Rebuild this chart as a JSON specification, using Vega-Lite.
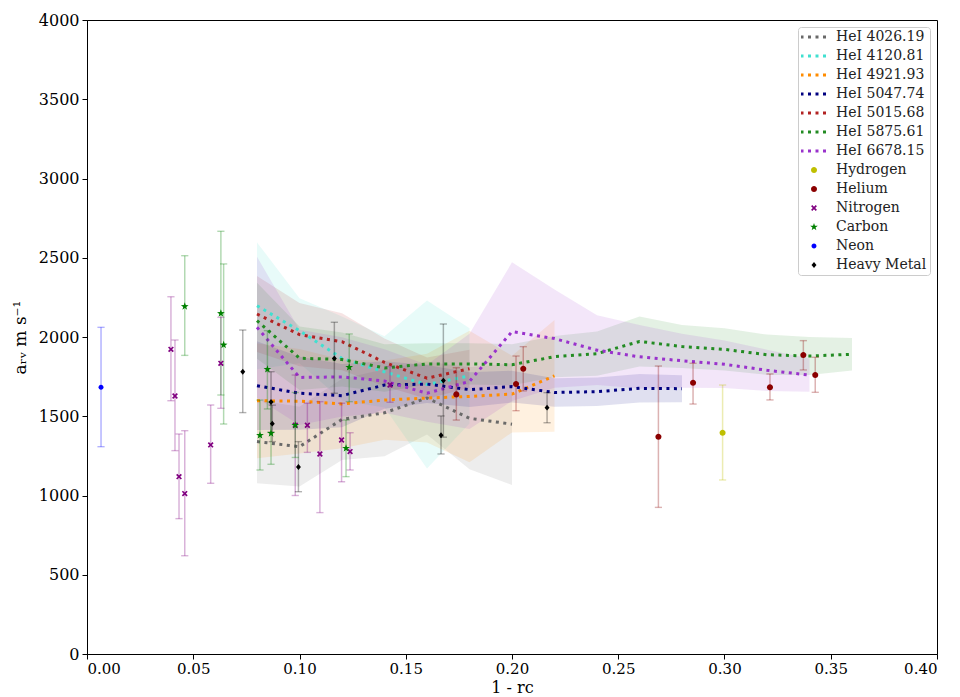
{
  "$schema": "https://vega.github.io/schema/vega-lite/v6.json",
  "width": 850,
  "height": 634,
  "autosize": {"type": "none"},
  "padding": {"left": 87, "top": 20, "right": 23, "bottom": 43},
  "background": "white",
  "config": {
    "view": {"stroke": "black", "strokeWidth": 1},
    "font": "DejaVu Serif",
    "axis": {
      "labelFont": "DejaVu Serif", "titleFont": "DejaVu Serif", "labelColor": "black", "titleColor": "black",
      "domainColor": "black", "tickColor": "black", "grid": false, "labelFontSize": 15, "titleFontSize": 17,
      "titleFontWeight": "normal", "tickSize": 5, "domainWidth": 1, "tickWidth": 1
    }
  },
  "datasets": {
    "lines": [
      {"s": "HeI 4026.19", "x": 0.08, "y": 1340, "lo": 1077, "hi": 1603},
      {"s": "HeI 4026.19", "x": 0.10, "y": 1308, "lo": 1056, "hi": 1560},
      {"s": "HeI 4026.19", "x": 0.12, "y": 1480, "lo": 1224, "hi": 1736},
      {"s": "HeI 4026.19", "x": 0.14, "y": 1522, "lo": 1247, "hi": 1797},
      {"s": "HeI 4026.19", "x": 0.16, "y": 1615, "lo": 1385, "hi": 1845},
      {"s": "HeI 4026.19", "x": 0.18, "y": 1487, "lo": 1165, "hi": 1809},
      {"s": "HeI 4026.19", "x": 0.20, "y": 1450, "lo": 1066, "hi": 1834},
      {"s": "HeI 4120.81", "x": 0.08, "y": 2197, "lo": 1797, "hi": 2597},
      {"s": "HeI 4120.81", "x": 0.10, "y": 2040, "lo": 1835, "hi": 2245},
      {"s": "HeI 4120.81", "x": 0.12, "y": 1865, "lo": 1600, "hi": 2130},
      {"s": "HeI 4120.81", "x": 0.14, "y": 1780, "lo": 1555, "hi": 2005},
      {"s": "HeI 4120.81", "x": 0.16, "y": 1700, "lo": 1170, "hi": 2230},
      {"s": "HeI 4120.81", "x": 0.18, "y": 1755, "lo": 1455, "hi": 2055},
      {"s": "HeI 4921.93", "x": 0.08, "y": 1598, "lo": 1235, "hi": 1961},
      {"s": "HeI 4921.93", "x": 0.10, "y": 1595, "lo": 1265, "hi": 1925},
      {"s": "HeI 4921.93", "x": 0.12, "y": 1578, "lo": 1298, "hi": 1858},
      {"s": "HeI 4921.93", "x": 0.14, "y": 1602, "lo": 1352, "hi": 1852},
      {"s": "HeI 4921.93", "x": 0.16, "y": 1615, "lo": 1335, "hi": 1895},
      {"s": "HeI 4921.93", "x": 0.18, "y": 1625, "lo": 1210, "hi": 2040},
      {"s": "HeI 4921.93", "x": 0.20, "y": 1640, "lo": 1398, "hi": 1882},
      {"s": "HeI 4921.93", "x": 0.22, "y": 1755, "lo": 1402, "hi": 2108},
      {"s": "HeI 5047.74", "x": 0.08, "y": 1693, "lo": 1413, "hi": 1973},
      {"s": "HeI 5047.74", "x": 0.10, "y": 1645, "lo": 1415, "hi": 1875},
      {"s": "HeI 5047.74", "x": 0.12, "y": 1630, "lo": 1430, "hi": 1830},
      {"s": "HeI 5047.74", "x": 0.14, "y": 1697, "lo": 1547, "hi": 1847},
      {"s": "HeI 5047.74", "x": 0.16, "y": 1703, "lo": 1583, "hi": 1823},
      {"s": "HeI 5047.74", "x": 0.18, "y": 1668, "lo": 1558, "hi": 1778},
      {"s": "HeI 5047.74", "x": 0.20, "y": 1687, "lo": 1587, "hi": 1787},
      {"s": "HeI 5047.74", "x": 0.22, "y": 1650, "lo": 1560, "hi": 1740},
      {"s": "HeI 5047.74", "x": 0.24, "y": 1655, "lo": 1565, "hi": 1745},
      {"s": "HeI 5047.74", "x": 0.26, "y": 1676, "lo": 1586, "hi": 1766},
      {"s": "HeI 5047.74", "x": 0.28, "y": 1674, "lo": 1589, "hi": 1759},
      {"s": "HeI 5015.68", "x": 0.08, "y": 2145, "lo": 1905, "hi": 2385},
      {"s": "HeI 5015.68", "x": 0.10, "y": 2015, "lo": 1815, "hi": 2215},
      {"s": "HeI 5015.68", "x": 0.12, "y": 1970, "lo": 1790, "hi": 2150},
      {"s": "HeI 5015.68", "x": 0.14, "y": 1840, "lo": 1690, "hi": 1990},
      {"s": "HeI 5015.68", "x": 0.16, "y": 1740, "lo": 1610, "hi": 1870},
      {"s": "HeI 5015.68", "x": 0.18, "y": 1800, "lo": 1680, "hi": 1920},
      {"s": "HeI 5875.61", "x": 0.08, "y": 2103, "lo": 1863, "hi": 2343},
      {"s": "HeI 5875.61", "x": 0.10, "y": 1866, "lo": 1666, "hi": 2066},
      {"s": "HeI 5875.61", "x": 0.12, "y": 1858, "lo": 1688, "hi": 2028},
      {"s": "HeI 5875.61", "x": 0.14, "y": 1805, "lo": 1655, "hi": 1955},
      {"s": "HeI 5875.61", "x": 0.16, "y": 1830, "lo": 1700, "hi": 1960},
      {"s": "HeI 5875.61", "x": 0.18, "y": 1830, "lo": 1700, "hi": 1960},
      {"s": "HeI 5875.61", "x": 0.20, "y": 1825, "lo": 1695, "hi": 1955},
      {"s": "HeI 5875.61", "x": 0.22, "y": 1876, "lo": 1746, "hi": 2006},
      {"s": "HeI 5875.61", "x": 0.24, "y": 1895, "lo": 1755, "hi": 2035},
      {"s": "HeI 5875.61", "x": 0.26, "y": 1972, "lo": 1814, "hi": 2130},
      {"s": "HeI 5875.61", "x": 0.28, "y": 1940, "lo": 1804, "hi": 2076},
      {"s": "HeI 5875.61", "x": 0.30, "y": 1922, "lo": 1789, "hi": 2055},
      {"s": "HeI 5875.61", "x": 0.32, "y": 1888, "lo": 1761, "hi": 2015},
      {"s": "HeI 5875.61", "x": 0.34, "y": 1880, "lo": 1760, "hi": 2000},
      {"s": "HeI 5875.61", "x": 0.36, "y": 1891, "lo": 1788, "hi": 1994},
      {"s": "HeI 6678.15", "x": 0.08, "y": 2061, "lo": 1615, "hi": 2507},
      {"s": "HeI 6678.15", "x": 0.10, "y": 1745, "lo": 1445, "hi": 2045},
      {"s": "HeI 6678.15", "x": 0.12, "y": 1748, "lo": 1498, "hi": 1998},
      {"s": "HeI 6678.15", "x": 0.14, "y": 1722, "lo": 1522, "hi": 1922},
      {"s": "HeI 6678.15", "x": 0.16, "y": 1645, "lo": 1465, "hi": 1825},
      {"s": "HeI 6678.15", "x": 0.18, "y": 1720, "lo": 1420, "hi": 2020},
      {"s": "HeI 6678.15", "x": 0.20, "y": 2034, "lo": 1597, "hi": 2471},
      {"s": "HeI 6678.15", "x": 0.22, "y": 1990, "lo": 1680, "hi": 2300},
      {"s": "HeI 6678.15", "x": 0.24, "y": 1917, "lo": 1697, "hi": 2137},
      {"s": "HeI 6678.15", "x": 0.26, "y": 1875, "lo": 1675, "hi": 2075},
      {"s": "HeI 6678.15", "x": 0.28, "y": 1850, "lo": 1680, "hi": 2020},
      {"s": "HeI 6678.15", "x": 0.30, "y": 1828, "lo": 1678, "hi": 1978},
      {"s": "HeI 6678.15", "x": 0.32, "y": 1790, "lo": 1660, "hi": 1920},
      {"s": "HeI 6678.15", "x": 0.34, "y": 1760, "lo": 1655, "hi": 1865}
    ],
    "pts": [
      {"s": "Neon", "x": 0.0066, "y": 1683, "lo": 1308, "hi": 2061},
      {"s": "Nitrogen", "x": 0.0395, "y": 1922, "lo": 1598, "hi": 2254},
      {"s": "Nitrogen", "x": 0.0414, "y": 1628, "lo": 1283, "hi": 1981},
      {"s": "Nitrogen", "x": 0.0433, "y": 1119, "lo": 854, "hi": 1388},
      {"s": "Nitrogen", "x": 0.046, "y": 1012, "lo": 620, "hi": 1409},
      {"s": "Nitrogen", "x": 0.0582, "y": 1319, "lo": 1077, "hi": 1571},
      {"s": "Nitrogen", "x": 0.063, "y": 1834, "lo": 1550, "hi": 2124},
      {"s": "Nitrogen", "x": 0.098, "y": 1443, "lo": 1000, "hi": 1760},
      {"s": "Nitrogen", "x": 0.1037, "y": 1443, "lo": 1272, "hi": 1582},
      {"s": "Nitrogen", "x": 0.1096, "y": 1262, "lo": 892, "hi": 1592},
      {"s": "Nitrogen", "x": 0.1198, "y": 1350, "lo": 1087, "hi": 1582},
      {"s": "Nitrogen", "x": 0.1238, "y": 1277, "lo": 1161, "hi": 1396},
      {"s": "Nitrogen", "x": 0.1426, "y": 1697, "lo": 1588, "hi": 1813},
      {"s": "Carbon", "x": 0.046, "y": 2193, "lo": 1884, "hi": 2513},
      {"s": "Carbon", "x": 0.063, "y": 2149, "lo": 1634, "hi": 2667},
      {"s": "Carbon", "x": 0.0643, "y": 1950, "lo": 1451, "hi": 2461},
      {"s": "Carbon", "x": 0.0814, "y": 1380, "lo": 1161, "hi": 1602},
      {"s": "Carbon", "x": 0.0849, "y": 1796, "lo": 1546, "hi": 2040},
      {"s": "Carbon", "x": 0.0866, "y": 1392, "lo": 1197, "hi": 1590},
      {"s": "Carbon", "x": 0.098, "y": 1443, "lo": 1240, "hi": 1650},
      {"s": "Carbon", "x": 0.1234, "y": 1809, "lo": 1592, "hi": 2019},
      {"s": "Carbon", "x": 0.1219, "y": 1298, "lo": 1119, "hi": 1476},
      {"s": "Heavy Metal", "x": 0.0733, "y": 1781, "lo": 1523, "hi": 2044},
      {"s": "Heavy Metal", "x": 0.0866, "y": 1590, "lo": 1400, "hi": 1781},
      {"s": "Heavy Metal", "x": 0.0872, "y": 1453, "lo": 1340, "hi": 1570},
      {"s": "Heavy Metal", "x": 0.0995, "y": 1180, "lo": 1024, "hi": 1340},
      {"s": "Heavy Metal", "x": 0.1164, "y": 1865, "lo": 1645, "hi": 2093},
      {"s": "Heavy Metal", "x": 0.1677, "y": 1725, "lo": 1368, "hi": 2082},
      {"s": "Heavy Metal", "x": 0.1666, "y": 1380, "lo": 1262, "hi": 1502},
      {"s": "Heavy Metal", "x": 0.2165, "y": 1554, "lo": 1459, "hi": 1649},
      {"s": "Helium", "x": 0.1738, "y": 1638, "lo": 1476, "hi": 1806},
      {"s": "Helium", "x": 0.2019, "y": 1703, "lo": 1535, "hi": 1880},
      {"s": "Helium", "x": 0.2053, "y": 1800, "lo": 1660, "hi": 1939},
      {"s": "Helium", "x": 0.2689, "y": 1371, "lo": 925, "hi": 1817},
      {"s": "Helium", "x": 0.2852, "y": 1712, "lo": 1577, "hi": 1834},
      {"s": "Helium", "x": 0.3214, "y": 1683, "lo": 1603, "hi": 1767},
      {"s": "Helium", "x": 0.3371, "y": 1886, "lo": 1792, "hi": 1977},
      {"s": "Helium", "x": 0.3427, "y": 1760, "lo": 1651, "hi": 1872},
      {"s": "Hydrogen", "x": 0.2991, "y": 1396, "lo": 1098, "hi": 1697}
    ]
  },
  "encoding": {
    "x": {
      "field": "x", "type": "quantitative",
      "scale": {"domain": [0, 0.4], "nice": false, "zero": false},
      "axis": {"values": [0, 0.05, 0.1, 0.15, 0.2, 0.25, 0.3, 0.35, 0.4], "format": ".2f", "title": "1 - rc", "labelPadding": 2, "titlePadding": 3, "titleFontSize": 16}
    }
  },
  "layer": [
    {
      "data": {"name": "lines"},
      "mark": {"type": "area", "opacity": 0.12},
      "encoding": {
        "y": {"field": "lo", "type": "quantitative", "scale": {"domain": [0, 4000], "nice": false}, "axis": {"values": [0, 500, 1000, 1500, 2000, 2500, 3000, 3500, 4000], "format": "d", "title": "aᵣᵥ m s⁻¹", "labelFontSize": 16, "labelPadding": 3, "titlePadding": 9}},
        "y2": {"field": "hi"},
        "fill": {
          "field": "s", "type": "nominal", "legend": null,
          "scale": {
            "domain": ["HeI 4026.19", "HeI 4120.81", "HeI 4921.93", "HeI 5047.74", "HeI 5015.68", "HeI 5875.61", "HeI 6678.15"],
            "range": ["#696969", "#40e0d0", "#ff8c00", "#000080", "#b22222", "#228b22", "#9932cc"]
          }
        }
      }
    },
    {
      "data": {"name": "lines"},
      "mark": {"type": "line", "strokeWidth": 3, "strokeDash": [3, 4.5], "strokeCap": "butt"},
      "encoding": {
        "y": {"field": "y", "type": "quantitative"},
        "color": {
          "field": "s", "type": "nominal",
          "scale": {
            "domain": ["HeI 4026.19", "HeI 4120.81", "HeI 4921.93", "HeI 5047.74", "HeI 5015.68", "HeI 5875.61", "HeI 6678.15", "Hydrogen", "Helium", "Nitrogen", "Carbon", "Neon", "Heavy Metal"],
            "range": ["#696969", "#40e0d0", "#ff8c00", "#000080", "#b22222", "#228b22", "#9932cc", "#bfbf00", "#8b0000", "#800080", "#008000", "#0000ff", "#000000"]
          },
          "legend": {
            "title": null, "orient": "top-right", "offset": 7,
            "fillColor": "white", "strokeColor": "#cccccc", "cornerRadius": 3, "padding": 3,
            "labelFont": "DejaVu Serif", "labelFontSize": 14, "labelColor": "#222222",
            "rowPadding": 5, "clipHeight": 14, "labelOffset": 15, "symbolOffset": 6, "symbolSize": 81, "symbolStrokeWidth": 3,
            "encode": {
              "symbols": {
                "update": {
                  "shape": [
                    {"test": "indexof(datum.value, 'HeI') === 0", "value": "M-3,0H3"},
                    {"test": "datum.value === 'Nitrogen'", "value": "M-0.65,-0.39L-0.39,-0.65L0,-0.26L0.39,-0.65L0.65,-0.39L0.26,0L0.65,0.39L0.39,0.65L0,0.26L-0.39,0.65L-0.65,0.39L-0.26,0Z"},
                    {"test": "datum.value === 'Carbon'", "value": "M0,-0.9L0.212,-0.291L0.856,-0.278L0.342,0.111L0.529,0.728L0,0.36L-0.529,0.728L-0.342,0.111L-0.856,-0.278L-0.212,-0.291Z"},
                    {"test": "datum.value === 'Heavy Metal'", "value": "M0,-0.65L0.55,0L0,0.65L-0.55,0Z"},
                    {"test": "datum.value === 'Neon'", "value": "M-0.55,0A0.55,0.55 0 1,0 0.55,0A0.55,0.55 0 1,0 -0.55,0Z"},
                    {"value": "M-0.67,0A0.67,0.67 0 1,0 0.67,0A0.67,0.67 0 1,0 -0.67,0Z"}
                  ],
                  "strokeDash": [
                    {"test": "indexof(datum.value, 'HeI') === 0", "value": [3, 4.5]},
                    {"value": [0, 100]}
                  ],
                  "strokeWidth": {"value": 3},
                  "size": {"value": 81},
                  "opacity": {"value": 1}
                }
              }
            }
          }
        }
      }
    },
    {
      "data": {"name": "pts"},
      "mark": {"type": "rule", "opacity": 0.3, "strokeWidth": 1.5},
      "encoding": {
        "y": {"field": "lo", "type": "quantitative"}, "y2": {"field": "hi"},
        "stroke": {"field": "s", "type": "nominal", "legend": null,
          "scale": {"domain": ["Hydrogen", "Helium", "Nitrogen", "Carbon", "Neon", "Heavy Metal"], "range": ["#bfbf00", "#8b0000", "#800080", "#008000", "#0000ff", "#000000"]}}
      }
    },
    {
      "data": {"name": "pts"},
      "mark": {"type": "tick", "orient": "horizontal", "size": 6, "thickness": 0.2, "filled": false, "strokeWidth": 1.2, "opacity": 0.3},
      "encoding": {
        "y": {"field": "lo", "type": "quantitative"},
        "stroke": {"field": "s", "type": "nominal", "legend": null}
      }
    },
    {
      "data": {"name": "pts"},
      "mark": {"type": "tick", "orient": "horizontal", "size": 6, "thickness": 0.2, "filled": false, "strokeWidth": 1.2, "opacity": 0.3},
      "encoding": {
        "y": {"field": "hi", "type": "quantitative"},
        "stroke": {"field": "s", "type": "nominal", "legend": null}
      }
    },
    {
      "data": {"name": "pts"},
      "encoding": {
        "y": {"field": "y", "type": "quantitative"},
        "color": {
          "field": "s", "type": "nominal",
          "legend": {
            "title": null, "orient": "top-right", "offset": 7,
            "fillColor": "white", "strokeColor": "#cccccc", "cornerRadius": 3, "padding": 3,
            "labelFont": "DejaVu Serif", "labelFontSize": 14, "labelColor": "#222222",
            "rowPadding": 5, "clipHeight": 14, "labelOffset": 15, "symbolOffset": 6, "symbolSize": 81, "symbolStrokeWidth": 3,
            "encode": {
              "symbols": {
                "update": {
                  "shape": [
                    {"test": "indexof(datum.value, 'HeI') === 0", "value": "M-3,0H3"},
                    {"test": "datum.value === 'Nitrogen'", "value": "M-0.65,-0.39L-0.39,-0.65L0,-0.26L0.39,-0.65L0.65,-0.39L0.26,0L0.65,0.39L0.39,0.65L0,0.26L-0.39,0.65L-0.65,0.39L-0.26,0Z"},
                    {"test": "datum.value === 'Carbon'", "value": "M0,-0.9L0.212,-0.291L0.856,-0.278L0.342,0.111L0.529,0.728L0,0.36L-0.529,0.728L-0.342,0.111L-0.856,-0.278L-0.212,-0.291Z"},
                    {"test": "datum.value === 'Heavy Metal'", "value": "M0,-0.65L0.55,0L0,0.65L-0.55,0Z"},
                    {"test": "datum.value === 'Neon'", "value": "M-0.55,0A0.55,0.55 0 1,0 0.55,0A0.55,0.55 0 1,0 -0.55,0Z"},
                    {"value": "M-0.67,0A0.67,0.67 0 1,0 0.67,0A0.67,0.67 0 1,0 -0.67,0Z"}
                  ],
                  "strokeDash": [
                    {"test": "indexof(datum.value, 'HeI') === 0", "value": [3, 4.5]},
                    {"value": [0, 100]}
                  ],
                  "strokeWidth": {"value": 3},
                  "size": {"value": 81},
                  "opacity": {"value": 1}
                }
              }
            }
          }
        }
      },
      "layer": [
        {
          "transform": [{"filter": {"field": "s", "oneOf": ["Hydrogen", "Helium"]}}],
          "mark": {"type": "point", "filled": true, "opacity": 1, "size": 81, "shape": "M-0.67,0A0.67,0.67 0 1,0 0.67,0A0.67,0.67 0 1,0 -0.67,0Z"}
        },
        {
          "transform": [{"filter": {"field": "s", "equal": "Neon"}}],
          "mark": {"type": "point", "filled": true, "opacity": 1, "size": 81, "shape": "M-0.55,0A0.55,0.55 0 1,0 0.55,0A0.55,0.55 0 1,0 -0.55,0Z"}
        },
        {
          "transform": [{"filter": {"field": "s", "equal": "Nitrogen"}}],
          "mark": {"type": "point", "filled": true, "opacity": 1, "size": 81, "shape": "M-0.65,-0.39L-0.39,-0.65L0,-0.26L0.39,-0.65L0.65,-0.39L0.26,0L0.65,0.39L0.39,0.65L0,0.26L-0.39,0.65L-0.65,0.39L-0.26,0Z"}
        },
        {
          "transform": [{"filter": {"field": "s", "equal": "Carbon"}}],
          "mark": {"type": "point", "filled": true, "opacity": 1, "size": 81, "shape": "M0,-0.9L0.212,-0.291L0.856,-0.278L0.342,0.111L0.529,0.728L0,0.36L-0.529,0.728L-0.342,0.111L-0.856,-0.278L-0.212,-0.291Z"}
        },
        {
          "transform": [{"filter": {"field": "s", "equal": "Heavy Metal"}}],
          "mark": {"type": "point", "filled": true, "opacity": 1, "size": 81, "shape": "M0,-0.65L0.55,0L0,0.65L-0.55,0Z"}
        }
      ]
    }
  ]
}
